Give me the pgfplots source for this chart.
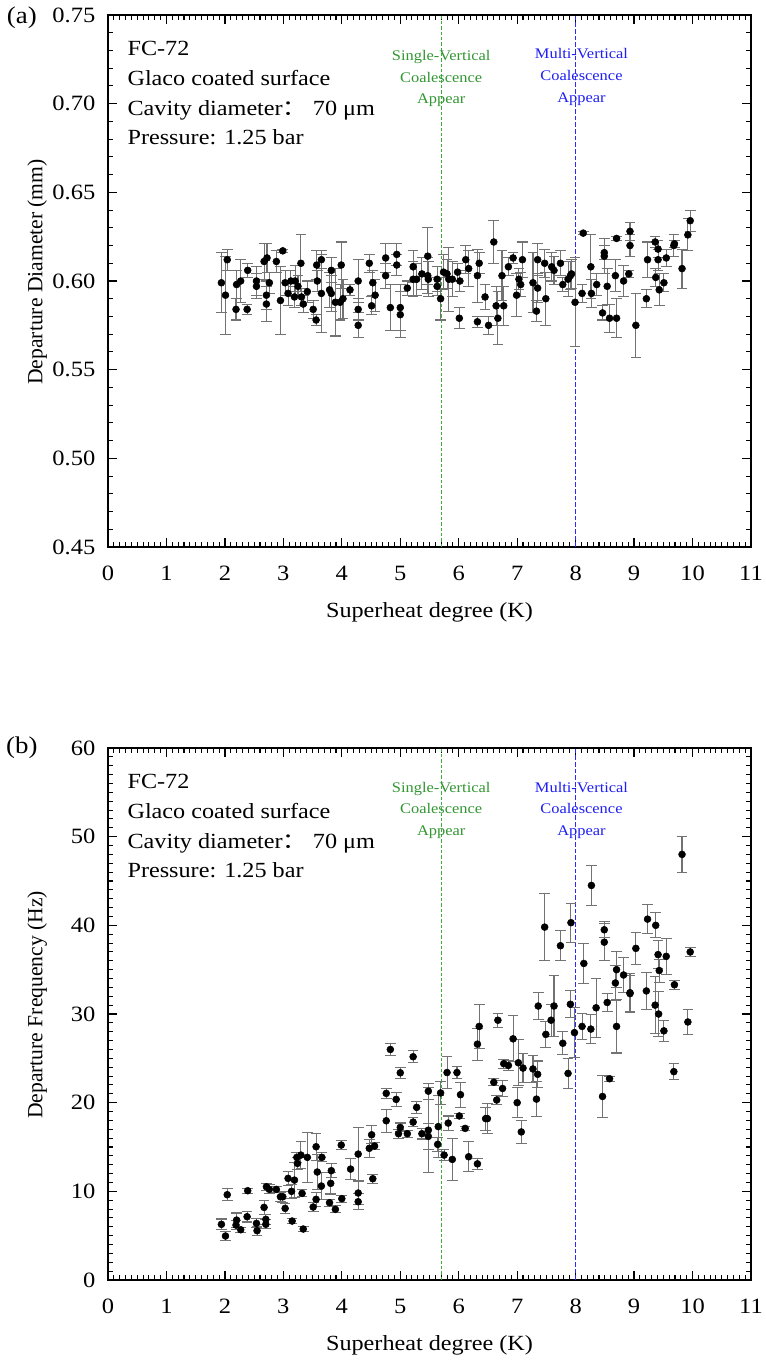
\documentclass[border=0pt]{standalone}
\usepackage{fontspec}
\setmainfont{Liberation Serif}[FakeStretch=1.12]
\newfontfamily\plainserif{Liberation Serif}
\newfontfamily\cjk{Noto Sans CJK SC}[FakeStretch=1.12]
\usepackage{pgfplots}
\usepackage{pgfplotstable}
\pgfplotsset{compat=1.18}
\definecolor{vgreen}{RGB}{50,150,50}
\definecolor{vblue}{RGB}{30,30,245}
\definecolor{lgreen}{RGB}{60,170,60}
\definecolor{lblue}{RGB}{40,40,255}
\definecolor{ebar}{RGB}{115,115,115}

\pgfplotstableread{
x y e
1.94 0.599 0.017
2.01 0.592 0.022
2.04 0.612 0.006
2.20 0.598 0.008
2.19 0.584 0.006
2.27 0.600 0.012
2.39 0.606 0.004
2.38 0.584 0.003
2.54 0.600 0.008
2.54 0.597 0.007
2.67 0.611 0.010
2.72 0.613 0.008
2.71 0.592 0.008
2.71 0.587 0.010
2.76 0.599 0.006
2.88 0.611 0.006
2.99 0.617 0.001
2.95 0.589 0.019
3.03 0.599 0.007
3.08 0.593 0.007
3.13 0.600 0.006
3.19 0.591 0.006
3.20 0.600 0.009
3.25 0.597 0.006
3.30 0.610 0.016
3.31 0.591 0.005
3.34 0.587 0.005
3.41 0.594 0.006
3.51 0.584 0.005
3.56 0.578 0.003
3.57 0.609 0.008
3.58 0.600 0.006
3.65 0.612 0.005
3.65 0.593 0.022
3.79 0.595 0.010
3.82 0.606 0.007
3.82 0.593 0.010
3.89 0.588 0.019
3.97 0.588 0.010
3.99 0.609 0.013
4.02 0.590 0.011
4.14 0.595 0.003
4.28 0.600 0.012
4.28 0.584 0.006
4.28 0.575 0.007
4.47 0.610 0.005
4.53 0.599 0.007
4.51 0.586 0.005
4.57 0.592 0.009
4.75 0.613 0.008
4.75 0.603 0.007
4.83 0.585 0.013
4.94 0.615 0.006
4.94 0.609 0.006
5.00 0.585 0.013
5.00 0.581 0.013
5.12 0.596 0.004
5.22 0.608 0.009
5.22 0.601 0.010
5.28 0.601 0.009
5.37 0.604 0.009
5.47 0.614 0.016
5.47 0.603 0.010
5.48 0.601 0.010
5.63 0.601 0.007
5.63 0.597 0.005
5.69 0.590 0.012
5.74 0.605 0.010
5.80 0.604 0.008
5.83 0.601 0.018
5.89 0.601 0.010
5.98 0.605 0.005
6.02 0.600 0.006
6.01 0.579 0.006
6.12 0.612 0.008
6.17 0.607 0.010
6.32 0.603 0.015
6.35 0.610 0.006
6.32 0.577 0.003
6.45 0.591 0.007
6.51 0.575 0.005
6.60 0.622 0.012
6.64 0.586 0.011
6.67 0.579 0.015
6.74 0.603 0.014
6.77 0.586 0.011
6.85 0.608 0.005
6.93 0.613 0.003
6.99 0.592 0.012
7.03 0.601 0.006
7.06 0.598 0.007
7.09 0.612 0.010
7.27 0.599 0.017
7.35 0.612 0.009
7.35 0.596 0.008
7.33 0.583 0.006
7.49 0.590 0.015
7.47 0.610 0.008
7.59 0.608 0.008
7.63 0.606 0.008
7.74 0.610 0.007
7.78 0.598 0.004
7.87 0.601 0.010
7.91 0.603 0.008
7.93 0.604 0.008
7.99 0.588 0.025
8.11 0.593 0.005
8.13 0.627 0.001
8.26 0.608 0.018
8.27 0.593 0.008
8.36 0.598 0.006
8.46 0.582 0.004
8.49 0.616 0.004
8.49 0.614 0.010
8.54 0.597 0.010
8.58 0.579 0.008
8.68 0.603 0.009
8.70 0.579 0.011
8.70 0.624 0.001
8.82 0.600 0.009
8.91 0.604 0.002
8.93 0.628 0.005
8.93 0.620 0.006
9.03 0.575 0.018
9.21 0.590 0.005
9.23 0.612 0.010
9.36 0.622 0.003
9.37 0.602 0.005
9.41 0.618 0.005
9.41 0.612 0.006
9.43 0.595 0.009
9.51 0.599 0.005
9.55 0.613 0.005
9.68 0.620 0.006
9.69 0.621 0.002
9.82 0.607 0.011
9.92 0.626 0.009
9.96 0.634 0.006
}\dataA

\pgfplotstableread{
x y e
1.94 6.28 0.6
2.01 4.96 0.5
2.04 9.62 0.7
2.20 6.76 0.8
2.19 6.20 0.5
2.27 5.67 0.3
2.39 10.07 0.3
2.38 7.14 0.6
2.54 6.39 0.5
2.55 5.56 0.5
2.67 8.19 0.8
2.71 10.52 0.4
2.70 6.84 0.6
2.70 6.28 0.5
2.76 10.22 0.5
2.88 10.22 0.3
2.95 9.39 0.5
2.99 9.39 0.6
3.03 8.08 0.6
3.08 11.46 0.8
3.15 6.65 0.3
3.19 11.27 2.0
3.14 10.00 0.8
3.23 13.83 0.6
3.24 13.15 0.7
3.30 14.09 1.5
3.32 9.77 0.4
3.34 5.75 0.3
3.41 13.83 2.8
3.51 8.23 0.5
3.56 15.03 1.5
3.56 9.10 0.8
3.58 12.18 2.0
3.65 10.60 1.5
3.66 13.83 0.5
3.79 8.72 0.4
3.81 10.90 1.2
3.82 12.33 0.8
3.89 7.97 0.4
3.99 15.22 0.5
4.00 9.17 0.4
4.15 12.51 1.2
4.28 14.20 3.0
4.28 9.81 1.3
4.28 8.83 0.9
4.47 14.85 1.0
4.51 16.38 1.0
4.56 15.11 0.4
4.53 11.42 0.5
4.76 21.05 0.6
4.76 17.96 1.3
4.83 26.00 0.7
4.93 20.37 0.8
5.00 23.37 0.6
5.00 17.21 0.5
4.97 16.50 0.5
5.12 16.50 0.4
5.22 25.18 0.7
5.28 19.47 0.7
5.22 17.81 0.5
5.37 16.50 0.6
5.48 21.30 0.9
5.48 16.90 4.8
5.48 16.20 1.5
5.65 17.30 3.5
5.64 15.30 0.8
5.69 21.10 1.3
5.75 14.09 0.6
5.80 23.40 1.8
5.82 17.70 0.8
5.89 13.60 2.4
5.97 23.40 0.7
6.03 20.90 1.4
6.01 18.50 0.3
6.11 17.10 0.2
6.17 13.90 1.7
6.32 13.10 0.6
6.32 26.60 1.8
6.35 28.60 2.5
6.46 18.20 1.3
6.49 18.20 1.7
6.60 22.30 0.4
6.65 20.30 0.5
6.67 29.30 0.8
6.75 21.60 0.9
6.77 24.40 0.5
6.85 24.20 0.6
6.93 27.20 2.6
7.00 20.00 1.7
7.02 24.50 2.6
7.07 16.70 1.3
7.10 23.90 1.6
7.27 23.80 1.5
7.33 20.40 2.0
7.35 23.20 1.5
7.36 30.90 1.5
7.49 27.70 1.5
7.47 39.80 3.8
7.58 29.30 1.8
7.63 30.90 3.4
7.74 37.70 1.7
7.78 26.70 1.3
7.87 23.30 1.7
7.92 40.30 2.2
7.91 31.10 1.5
7.98 27.90 2.8
8.11 28.60 1.5
8.14 35.70 2.3
8.26 28.30 1.6
8.27 44.50 2.3
8.35 30.70 3.3
8.46 20.70 2.4
8.58 22.70 0.3
8.49 39.50 0.9
8.49 38.10 2.1
8.54 31.30 1.0
8.68 33.50 2.0
8.70 35.00 2.0
8.70 28.60 3.0
8.82 34.40 2.0
8.93 32.40 2.2
8.93 32.30 2.0
9.03 37.40 1.8
9.21 32.60 2.1
9.23 40.70 1.6
9.37 40.00 1.4
9.36 31.00 3.2
9.41 36.70 1.6
9.43 34.90 1.3
9.42 30.00 2.5
9.51 28.10 1.2
9.55 36.50 2.0
9.68 23.50 0.9
9.69 33.30 0.5
9.82 48.00 2.0
9.92 29.10 1.4
9.96 37.00 0.5
}\dataB

\tikzset{
  infotext/.style={anchor=base west, inner sep=0pt, font=\fontsize{16.2}{20}\selectfont},
  gtext/.style={anchor=base, inner sep=0pt, font=\fontsize{11}{14}\selectfont},
}
\pgfplotsset{
  myaxis/.style={
    scale only axis, width=482.25pt, height=399pt,
    xmin=0, xmax=11, xtick={0,1,...,11}, minor x tick num=9,
    tick align=inside, xtick pos=both, ytick pos=both,
    xticklabel pos=lower, yticklabel pos=left,
    major tick length=7pt, minor tick length=3.5pt,
    axis line style={line width=1.3pt},
    major tick style={line width=1pt, black},
    minor tick style={line width=0.8pt, black},
    tick label style={font=\fontsize{16.4}{20}\selectfont},
    xticklabel style={yshift=-11pt},
    yticklabel style={xshift=-6pt},
    /pgf/number format/assume math mode=true,
    xlabel={Superheat degree (K)},
    every axis x label/.style={at={(axis description cs:0.5,-0.122)}, anchor=center, font=\fontsize{16.2}{20}\selectfont},
    every axis y label/.style={at={(axis description cs:-0.110,0.517)}, rotate=90, anchor=center, font=\plainserif\fontsize{16.2}{20}\selectfont},
    clip=false,
  },
  mydata/.style={only marks, mark=*, mark size=2.6pt, black,
    error bars/.cd, y dir=both, y explicit,
    error bar style={ebar, line width=0.8pt},
    error mark options={rotate=90, ebar, mark size=4pt, line width=0.8pt}},
  gline/.style={color=lgreen, mark=none, line width=0.8pt, dash pattern=on 2.5pt off 1.5pt, forget plot},
  bline/.style={color=lblue, mark=none, line width=0.8pt, dash pattern=on 3.5pt off 1.5pt, forget plot},
}

\begin{document}
\begin{tikzpicture}
\path[use as bounding box] (-81pt,410.25pt) rectangle (493.5pt,-612pt);

% ---------- (a) ----------
\begin{axis}[myaxis, at={(0pt,0pt)}, anchor=south west,
  ymin=0.45, ymax=0.75, ytick={0.45,0.50,...,0.76}, minor y tick num=4,
  yticklabel style={/pgf/number format/.cd, fixed, fixed zerofill, precision=2},
  ylabel={Departure Diameter (mm)},
]
\addplot[gline] coordinates {(5.7,0.45) (5.7,0.75)};
\addplot[bline] coordinates {(8.0,0.45) (8.0,0.75)};
\addplot[mydata] table[x=x, y=y, y error=e] {\dataA};
\node[infotext] at (axis description cs:0.03,0.923) {FC-72};
\node[infotext] at (axis description cs:0.03,0.868) {Glaco coated surface};
\node[infotext] at (axis description cs:0.03,0.812) {Cavity diameter{\cjk ：} 70 μm};
\node[infotext] at (axis description cs:0.03,0.757) {Pressure: 1.25 bar};
\node[gtext, vgreen] at (axis cs:5.7,0.7246) {Single-Vertical};
\node[gtext, vgreen] at (axis cs:5.7,0.7122) {Coalescence};
\node[gtext, vgreen] at (axis cs:5.7,0.7002) {Appear};
\node[gtext, vblue] at (axis cs:8.1,0.7252) {Multi-Vertical};
\node[gtext, vblue] at (axis cs:8.1,0.7128) {Coalescence};
\node[gtext, vblue] at (axis cs:8.1,0.7006) {Appear};
\node[anchor=center, font=\fontsize{18}{20}\selectfont] at (axis description cs:-0.134,0.994) {(a)};
\end{axis}

% ---------- (b) ----------
\begin{axis}[myaxis, at={(0pt,-549.75pt)}, anchor=south west,
  ymin=0, ymax=60, ytick={0,10,...,60}, minor y tick num=9,
  ylabel={Departure Frequency (Hz)},
]
\addplot[gline] coordinates {(5.7,0) (5.7,60)};
\addplot[bline] coordinates {(8.0,0) (8.0,60)};
\addplot[mydata] table[x=x, y=y, y error=e] {\dataB};
\node[infotext] at (axis description cs:0.03,0.923) {FC-72};
\node[infotext] at (axis description cs:0.03,0.868) {Glaco coated surface};
\node[infotext] at (axis description cs:0.03,0.812) {Cavity diameter{\cjk ：} 70 μm};
\node[infotext] at (axis description cs:0.03,0.757) {Pressure: 1.25 bar};
\node[gtext, vgreen] at (axis cs:5.7,55.0) {Single-Vertical};
\node[gtext, vgreen] at (axis cs:5.7,52.6) {Coalescence};
\node[gtext, vgreen] at (axis cs:5.7,50.1) {Appear};
\node[gtext, vblue] at (axis cs:8.1,55.0) {Multi-Vertical};
\node[gtext, vblue] at (axis cs:8.1,52.6) {Coalescence};
\node[gtext, vblue] at (axis cs:8.1,50.1) {Appear};
\node[anchor=center, font=\fontsize{18}{20}\selectfont] at (axis description cs:-0.134,1.0) {(b)};
\end{axis}
\end{tikzpicture}
\end{document}
